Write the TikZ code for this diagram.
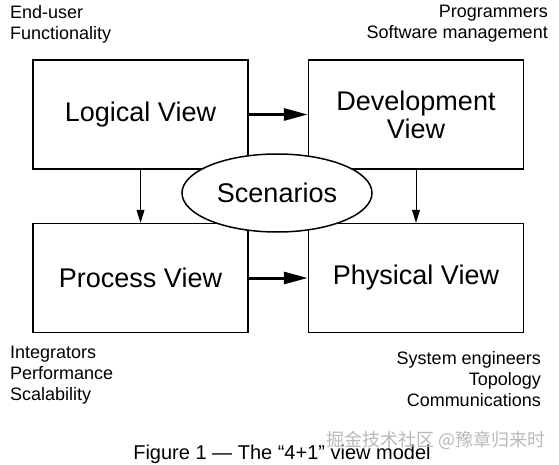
\documentclass[tikz,border=0pt]{standalone}
\usepackage{fontspec}
\setmainfont{Liberation Sans}
\newfontfamily\cjkfont{Noto Sans CJK SC}
\usetikzlibrary{shapes.geometric,arrows.meta,positioning}

\begin{document}
\begin{tikzpicture}[x=1pt,y=-1pt,>={Triangle[length=13pt,width=8pt]}]
  \tikzstyle{viewbox}=[rectangle,draw,line width=1.5pt,minimum width=215pt,minimum height=109pt,align=center,font=\fontsize{27}{28}\selectfont]
  \tikzstyle{scenario}=[ellipse,draw,line width=1.5pt,fill=white,minimum width=190pt,minimum height=78pt,inner sep=0pt,font=\fontsize{27}{28}\selectfont]
  \tikzstyle{stakeholder}=[inner sep=0pt,font=\fontsize{18}{21}\selectfont]
  \tikzstyle{bigflow}=[-{Triangle[length=24pt,width=12pt]},line width=3pt]

  \useasboundingbox (0,0) rectangle (559,465);

  \node[viewbox] (logical) at (140.5,114.5) {Logical View};
  \node[viewbox,right=59pt of logical] (devel) {Development\\View};
  \node[viewbox,below=53pt of logical] (process) {Process View};
  \node[viewbox,right=59pt of process] (physical) {Physical View};

  \draw[bigflow] (logical) -- (devel);
  \draw[bigflow] (process) -- (physical);
  \draw[->,line width=1pt] (logical) -- (process);
  \draw[->,line width=1pt] (devel) -- (physical);

  \node[scenario] (scen) at (277,193) {Scenarios};

  \node[stakeholder,anchor=north west,align=left] (enduser) at (10,5) {End-user\\Functionality};
  \node[stakeholder,anchor=north east,align=right] (programmers) at (548,5) {Programmers\\Software management};
  \node[stakeholder,anchor=north west,align=left] (integrators) at (10,346) {Integrators\\Performance\\Scalability};
  \node[stakeholder,anchor=north east,align=right] (sysengineers) at (541,351) {System engineers\\Topology\\Communications};

  \node[font=\fontsize{20}{24}\selectfont] (caption) at (282,454) {Figure 1 — The “4+1” view model};
  \node[font=\cjkfont\fontsize{18}{20}\selectfont,text=gray!55,anchor=east] (watermark) at (549,440) {掘金技术社区 @豫章归来时};
\end{tikzpicture}
\end{document}
